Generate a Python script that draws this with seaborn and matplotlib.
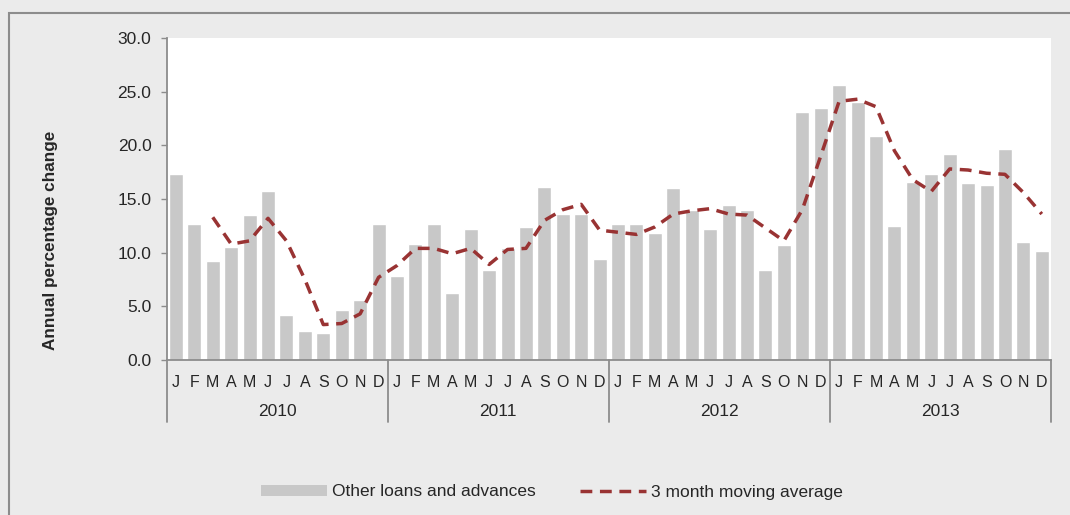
import numpy as np
import pandas as pd
import matplotlib.pyplot as plt
import matplotlib.transforms as mtransforms
from matplotlib.patches import Rectangle, Patch
from matplotlib.lines import Line2D
import seaborn as sns

sns.set_style("white")
plt.rcParams['font.family'] = ['Liberation Sans', 'DejaVu Sans']

# Data
years = ["2010", "2011", "2012", "2013"]
months = ["J", "F", "M", "A", "M", "J", "J", "A", "S", "O", "N", "D"]

loans_2010 = [17.3, 12.7, 9.2, 10.5, 13.5, 15.7, 4.2, 2.7, 2.5, 4.7, 5.6, 12.7]
loans_2011 = [7.8, 10.8, 12.7, 6.2, 12.2, 8.4, 10.4, 12.4, 16.1, 13.6, 13.6, 9.4]
loans_2012 = [12.7, 12.7, 11.8, 16.0, 14.0, 12.2, 14.4, 14.0, 8.4, 10.7, 23.1, 23.5]
loans_2013 = [25.6, 24.0, 20.9, 12.5, 16.6, 17.3, 19.2, 16.5, 16.3, 19.7, 11.0, 10.2]

# 3 month moving average (no value for Jan/Feb 2010)
ma_2010 = [np.nan, np.nan, 13.3, 10.8, 11.1, 13.2, 11.1, 7.5, 3.3, 3.4, 4.3, 7.7]
ma_2011 = [8.8, 10.4, 10.4, 9.9, 10.4, 8.9, 10.3, 10.4, 13.0, 14.0, 14.5, 12.1]
ma_2012 = [11.9, 11.7, 12.4, 13.6, 13.9, 14.1, 13.6, 13.5, 12.3, 11.1, 14.0, 19.0]
ma_2013 = [24.1, 24.3, 23.6, 19.5, 16.8, 15.7, 17.8, 17.7, 17.4, 17.3, 15.6, 13.6]

loans = loans_2010 + loans_2011 + loans_2012 + loans_2013
moving_avg = ma_2010 + ma_2011 + ma_2012 + ma_2013

df = pd.DataFrame({
    "pos": np.arange(len(loans)),
    "month": months * len(years),
    "loans": loans,
    "ma": moving_avg,
})

bar_color = "#c8c8c8"
line_color = "#993333"
axis_color = "#8c8c8c"
fs = 12.5

fig = plt.figure(figsize=(10.7, 5.15), dpi=100)
fig.patch.set_facecolor("#ebebeb")
ax = fig.add_axes([166.7 / 1070, 1 - 360 / 515, (1051 - 166.7) / 1070, (360 - 38) / 515])
ax.set_facecolor("white")

# outer frame of the chart box
fig.patches.append(Rectangle((9 / 1070, -0.1), 1.2, 1 - 13 / 515 + 0.1,
                             transform=fig.transFigure, fill=False,
                             edgecolor=axis_color, linewidth=1.5, zorder=0))

sns.barplot(data=df, x="pos", y="loans", color=bar_color, width=0.76,
            saturation=1, ax=ax, zorder=2)
sns.lineplot(data=df, x="pos", y="ma", color=line_color, linewidth=2.5,
             dashes=False, ax=ax, zorder=3)
ax.lines[-1].set_dashes((3.4, 2.2))

ax.set_xlim(-0.5, len(loans) - 0.5)
ax.set_ylim(0, 30)
ax.set_yticks(np.arange(0, 30.1, 5))
ax.set_yticklabels([f"{v:.1f}" for v in np.arange(0, 30.1, 5)])
ax.set_xticks(df["pos"])
ax.set_xticklabels(df["month"])

ax.tick_params(axis="y", direction="out", length=4, width=1, color=axis_color,
               pad=7, labelsize=fs, left=True)
ax.tick_params(axis="x", length=0, pad=10.5, labelsize=11.5)

for side in ["top", "right"]:
    ax.spines[side].set_visible(False)
for side in ["left", "bottom"]:
    ax.spines[side].set_color(axis_color)
    ax.spines[side].set_linewidth(1.3)

ax.set_xlabel("")
ax.set_ylabel("Annual percentage change", fontsize=12.3, fontweight="bold")
ax.yaxis.set_label_coords(-0.131, 0.37)
ax.yaxis.label.set_va("center")

# year groups under the month labels
trans = mtransforms.blended_transform_factory(ax.transData, ax.transAxes)
for i, yr in enumerate(years):
    ax.text(i * 12 + 5.5, -0.161, yr, transform=trans, ha="center", va="center",
            fontsize=fs)
for i in range(len(years) + 1):
    ax.add_line(Line2D([i * 12 - 0.5, i * 12 - 0.5], [0, -0.192], transform=trans,
                       color=axis_color, linewidth=1.3, clip_on=False))

handles = [
    Patch(facecolor=bar_color, edgecolor="none", label="Other loans and advances"),
    Line2D([0], [0], color=line_color, linewidth=2.5, dashes=(3.4, 2.2),
           label="3 month moving average"),
]
fig.legend(handles=handles, loc="center", bbox_to_anchor=(552 / 1070, 1 - 492 / 515),
           ncol=2, frameon=False, fontsize=fs, handlelength=3.8, handleheight=0.6,
           handletextpad=0.3, columnspacing=2.5)

fig.savefig("out.png", dpi=100, facecolor=fig.get_facecolor())
